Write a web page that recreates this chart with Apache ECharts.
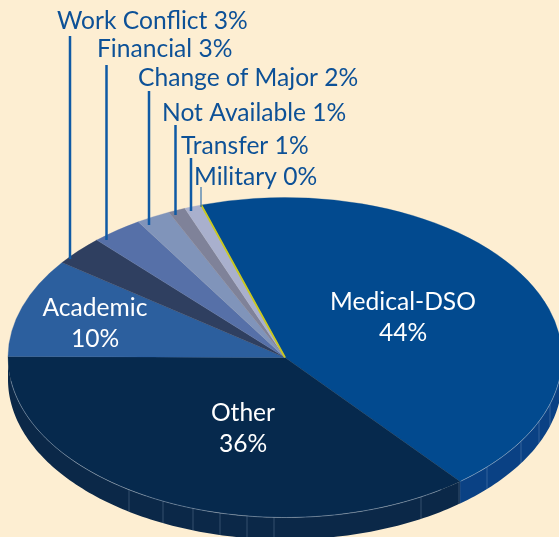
<!DOCTYPE html>
<html>
<head>
<meta charset="utf-8">
<style>
html,body{margin:0;padding:0;background:#fdeed2;}
#main{width:559px;height:537px;}
</style>
<script src="https://cdn.jsdelivr.net/npm/echarts@6/dist/echarts.min.js"></script>
</head>
<body>
<div id="main"></div>
<script>
// values, clockwise from the Medical-DSO slice
var categories=['Medical-DSO','Other','Academic','Work Conflict','Financial','Change of Major','Not Available','Transfer','Military'];
var percents=[44,36,10,3,3,2,1,1,0];

var topColors=['#024a8f','#06294d','#2c5f9e','#2f3f60','#5670a8','#8094ba','#7f8299','#a9b0cd','#c9c820'];
var wallColors=['#0a4184','#0b2848','#2c5f9e','#2f3f60','#5670a8','#8094ba','#7f8299','#a9b0cd','#c9c820'];

// flattened pie
var cx=285,cy=357.5,rx=277,ry=160,depth=22;
var startDeg=-17.6;//medical slice starts left of the top
var total=0;
for(var i=0;i<percents.length;i++){total+=percents[i];}
function angleBefore(idx){
    var sum=0;
    for(var i=0;i<idx;i++){sum+=percents[i];}
    return startDeg+sum/total*360;
}
function edgePoint(deg,dy){
    var a=deg*Math.PI/180;
    return [cx+rx*Math.sin(a),cy-ry*Math.cos(a)+(dy||0)];
}

// label placement: [x, y, align], two lines inside the slices, one line with a leader outside
var labelPos=[
    [403,302,'center'],[243,413,'center'],[95,308,'center'],
    [57,21,'left'],[97,49,'left'],[138,78,'left'],[162,113,'left'],[181,146,'left'],[194,177,'left']
];
// leader lines: [x, yTop, yBottom, width]
var leaders=[null,null,null,[70,36,259,2.5],[106.5,65,240,2.5],[149,91,225,2.5],[175.5,125,215,2.5],[191,158,211,2.5],[201,187,207,1]];
// thin facet lines on the side of the pie
var facetX=[129,163,193,220,247,274,421,459,487,521,539,550];

function renderWall(params,api){
    var i=params.dataIndex;
    var a0=Math.max(angleBefore(i),90),a1=Math.min(angleBefore(i)+api.value(0)/total*360,270);
    if(a1<=a0){return null;}
    var pts=[],a;
    for(a=a0;a<a1;a+=1){pts.push(edgePoint(a,0));}
    pts.push(edgePoint(a1,0));
    pts.push(edgePoint(a1,depth));
    for(a=a1;a>a0;a-=1){pts.push(edgePoint(a,depth));}
    pts.push(edgePoint(a0,depth));
    return {type:'polygon',shape:{points:pts},style:{fill:wallColors[i]}};
}

function renderSlice(params,api){
    var i=params.dataIndex;
    var a0=angleBefore(i),a1=a0+api.value(0)/total*360;
    var isZero=api.value(0)===0;
    return {
        type:'sector',
        x:cx,y:cy,scaleY:ry/rx,
        shape:{cx:0,cy:0,r0:0,r:rx,startAngle:(a0-90)*Math.PI/180,endAngle:(a1-90)*Math.PI/180,clockwise:true},
        style:{fill:topColors[i],stroke:topColors[i],lineWidth:isZero?2:0.4}
    };
}

function renderLabel(params,api){
    var i=params.dataIndex,p=labelPos[i],v=api.value(0);
    var inside=i<3;
    var children=[{
        type:'text',
        x:p[0],y:p[1],
        style:{
            text:inside?categories[i]:categories[i]+' '+v+'%',
            fill:inside?'#ffffff':'#0d5197',
            font:'24.6px Lato',
            align:p[2],verticalAlign:'middle'
        }
    }];
    if(inside){
        children.push({
            type:'text',x:p[0],y:p[1]+31,
            style:{text:v+'%',fill:'#ffffff',font:'24.6px Lato',align:'center',verticalAlign:'middle'}
        });
    }
    var l=leaders[i];
    if(l){
        children.push({
            type:'line',
            shape:{x1:l[0],y1:l[1],x2:l[0],y2:l[2]},
            style:{stroke:'#0f5aa5',lineWidth:l[3]}
        });
    }
    return {type:'group',children:children};
}

// lighter rim + facet lines, drawn once
function renderRim(params,api){
    var children=[];
    var arcs=[[97.5,141.2],[145.7,262]];//rim runs along these angles
    for(var k=0;k<arcs.length;k++){
        var pts=[];
        for(var a=arcs[k][0];a<=arcs[k][1];a+=1){pts.push(edgePoint(a,0));}
        children.push({type:'polyline',shape:{points:pts},style:{stroke:'rgba(190,205,225,0.5)',lineWidth:0.8,fill:null}});
    }
    for(var j=0;j<facetX.length;j++){
        var t=(facetX[j]-cx)/rx;
        var yy=cy+ry*Math.sqrt(1-t*t);
        children.push({
            type:'line',
            shape:{x1:facetX[j],y1:yy,x2:facetX[j],y2:yy+depth},
            style:{stroke:'rgba(190,205,225,0.3)',lineWidth:0.8}
        });
    }
    return {type:'group',children:children};
}

var data=[];
for(var n=0;n<percents.length;n++){
    data.push({name:categories[n],value:[percents[n]]});
}

var myChart=echarts.init(document.getElementById('main'),null,{renderer:'canvas'});
myChart.setOption({
    backgroundColor:'#fdeed2',
    animation:false,
    series:[
        {type:'custom',coordinateSystem:'none',silent:true,z:1,clip:false,data:data,renderItem:renderWall},
        {type:'custom',coordinateSystem:'none',silent:true,z:2,clip:false,data:data,renderItem:renderSlice},
        {type:'custom',coordinateSystem:'none',silent:true,z:3,clip:false,data:[[1]],renderItem:renderRim},
        {type:'custom',coordinateSystem:'none',silent:true,z:4,clip:false,data:data,renderItem:renderLabel}
    ]
});
</script>
</body>
</html>
